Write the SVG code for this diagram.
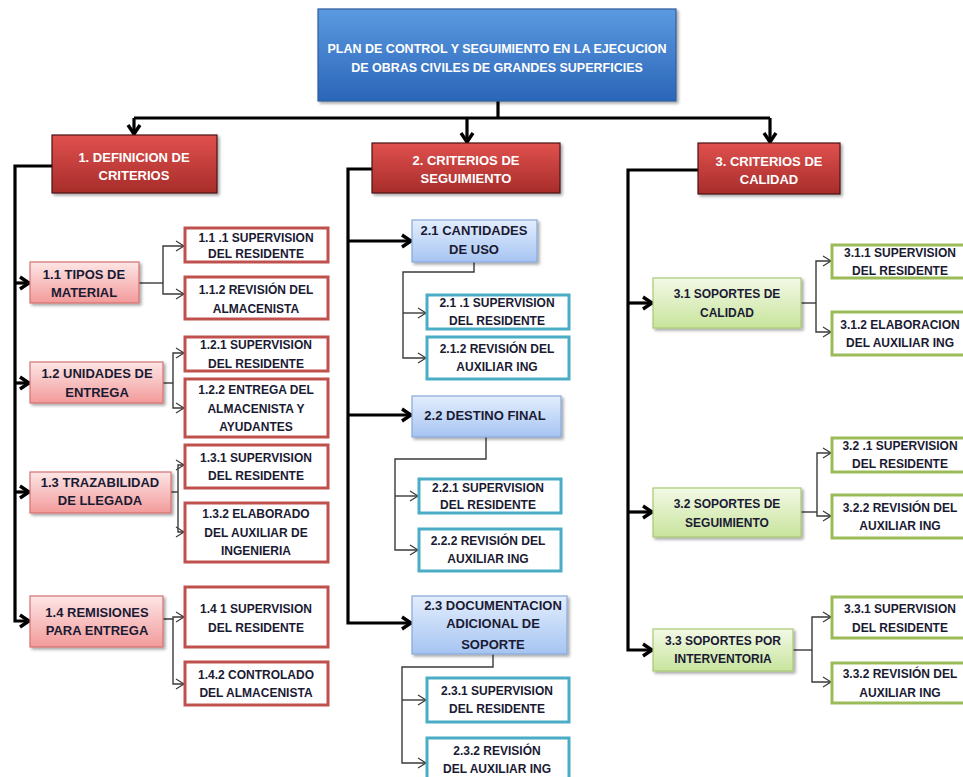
<svg xmlns="http://www.w3.org/2000/svg" width="963" height="777" viewBox="0 0 963 777">
<style>
text{font-family:"Liberation Sans",Arial,sans-serif;font-weight:bold;text-anchor:middle}
.t0{font-size:13px;fill:#ffffff}
.tt{font-size:12.5px;fill:#ffffff}
.t1{font-size:13px;fill:#1a1a33}
.t2{font-size:12px;fill:#1a1a33}
.thick{fill:none;stroke:#000;stroke-width:3.2}
.thin{fill:none;stroke:#3a3a3a;stroke-width:1.4}
.red{fill:url(#gRed);stroke:#4a1414;stroke-width:1.2;filter:url(#sh)}
.top{fill:url(#gBlue);stroke:#2f5f9e;stroke-width:1.2;filter:url(#sh)}
.pink{fill:url(#gPink);stroke:#d47272;stroke-width:1.2;filter:url(#sh)}
.lblue{fill:url(#gLBlue);stroke:#86a9da;stroke-width:1.2;filter:url(#sh)}
.lgreen{fill:url(#gLGreen);stroke:#a9c874;stroke-width:1.2;filter:url(#sh)}
.sr{fill:#fff;stroke:#c0504d;stroke-width:3}
.st{fill:#fff;stroke:#4bacc6;stroke-width:3}
.sg{fill:#fff;stroke:#9bbb59;stroke-width:3}
</style>
<defs>
<filter id="sh" x="-10%" y="-10%" width="125%" height="130%">
<feDropShadow dx="2" dy="2" stdDeviation="1.5" flood-color="#000" flood-opacity="0.35"/>
</filter>
<linearGradient id="gBlue" x1="0" y1="0" x2="0" y2="1"><stop offset="0" stop-color="#5b9ae0"/><stop offset="1" stop-color="#2b65b8"/></linearGradient>
<linearGradient id="gRed" x1="0" y1="0" x2="0" y2="1"><stop offset="0" stop-color="#e0514e"/><stop offset="1" stop-color="#a72c2a"/></linearGradient>
<linearGradient id="gPink" x1="0" y1="0" x2="0" y2="1"><stop offset="0" stop-color="#fde6e6"/><stop offset="1" stop-color="#f39a9a"/></linearGradient>
<linearGradient id="gLBlue" x1="0" y1="0" x2="0" y2="1"><stop offset="0" stop-color="#e3eefd"/><stop offset="1" stop-color="#a6c4f2"/></linearGradient>
<linearGradient id="gLGreen" x1="0" y1="0" x2="0" y2="1"><stop offset="0" stop-color="#f3f9e6"/><stop offset="1" stop-color="#c8e49c"/></linearGradient>
<marker id="aT" markerUnits="userSpaceOnUse" markerWidth="16" markerHeight="16" viewBox="-14 -8 16 16" refX="0" refY="0" orient="auto">
<path d="M-10,-6 L-1,0 L-10,6" fill="none" stroke="#000" stroke-width="3.4"/>
</marker>
<marker id="aS" markerUnits="userSpaceOnUse" markerWidth="14" markerHeight="14" viewBox="-12 -7 14 14" refX="0" refY="0" orient="auto">
<path d="M-9,-5 L-1,0 L-9,5" fill="none" stroke="#3a3a3a" stroke-width="1.2"/>
</marker>
</defs>

<g id="connectors">
<path class="thick" d="M498,101 V118"/>
<path class="thick" d="M134,118 H770"/>
<path class="thick" marker-end="url(#aT)" d="M134,118 V135"/>
<path class="thick" marker-end="url(#aT)" d="M467,118 V143"/>
<path class="thick" marker-end="url(#aT)" d="M770,118 V143"/>

<path class="thick" marker-end="url(#aT)" d="M52,166 H15 V621 H30"/>
<path class="thick" marker-end="url(#aT)" d="M15,283 H30"/>
<path class="thick" marker-end="url(#aT)" d="M15,383 H30"/>
<path class="thick" marker-end="url(#aT)" d="M15,492 H30"/>

<path class="thin" d="M139,283 H163"/>
<path class="thin" marker-end="url(#aS)" d="M163,283 V246 H185"/>
<path class="thin" marker-end="url(#aS)" d="M163,283 V294 H185"/>
<path class="thin" d="M163,383 H173"/>
<path class="thin" marker-end="url(#aS)" d="M173,383 V353 H185"/>
<path class="thin" marker-end="url(#aS)" d="M173,383 V408 H185"/>
<path class="thin" d="M171,492 H178"/>
<path class="thin" marker-end="url(#aS)" d="M178,492 V465 H185"/>
<path class="thin" marker-end="url(#aS)" d="M178,492 V532 H185"/>
<path class="thin" marker-end="url(#aS)" d="M163,619 H173 V617 H185"/>
<path class="thin" marker-end="url(#aS)" d="M173,619 V684 H185"/>

<path class="thick" marker-end="url(#aT)" d="M372,169 H348 V623 H412"/>
<path class="thick" marker-end="url(#aT)" d="M348,241 H412"/>
<path class="thick" marker-end="url(#aT)" d="M348,415 H412"/>
<path class="thin" marker-end="url(#aS)" d="M474,262 V272 H403 V358 H427"/>
<path class="thin" marker-end="url(#aS)" d="M403,313 H427"/>
<path class="thin" marker-end="url(#aS)" d="M486,437 V459 H395 V550 H419"/>
<path class="thin" marker-end="url(#aS)" d="M395,496 H419"/>
<path class="thin" marker-end="url(#aS)" d="M493,654 V667 H402 V763 H427"/>
<path class="thin" marker-end="url(#aS)" d="M402,700 H427"/>

<path class="thick" marker-end="url(#aT)" d="M698,170 H628 V650 H653"/>
<path class="thick" marker-end="url(#aT)" d="M628,303 H653"/>
<path class="thick" marker-end="url(#aT)" d="M628,512 H653"/>
<path class="thin" d="M801,303 H816"/>
<path class="thin" marker-end="url(#aS)" d="M816,303 V261 H832"/>
<path class="thin" marker-end="url(#aS)" d="M816,303 V332 H832"/>
<path class="thin" d="M801,512 H817"/>
<path class="thin" marker-end="url(#aS)" d="M817,512 V453 H832"/>
<path class="thin" marker-end="url(#aS)" d="M817,512 V516 H832"/>
<path class="thin" d="M793,650 H812"/>
<path class="thin" marker-end="url(#aS)" d="M812,650 V617 H832"/>
<path class="thin" marker-end="url(#aS)" d="M812,650 V682 H832"/>
</g>

<g id="root"><rect class="top" x="318" y="9" width="358" height="92"/>
<text class="tt" x="497" y="53">PLAN DE CONTROL Y SEGUIMIENTO EN LA EJECUCION</text>
<text class="tt" x="497" y="72">DE OBRAS CIVILES DE GRANDES SUPERFICIES</text></g>

<g id="n1"><rect class="red" x="52" y="135" width="165" height="58"/>
<text class="t0" x="134" y="162">1. DEFINICION DE</text><text class="t0" x="134" y="180">CRITERIOS</text></g>
<g id="n2"><rect class="red" x="372" y="143" width="188" height="50"/>
<text class="t0" x="466" y="165">2. CRITERIOS DE</text><text class="t0" x="466" y="183">SEGUIMIENTO</text></g>
<g id="n3"><rect class="red" x="698" y="143" width="142" height="51"/>
<text class="t0" x="769" y="166">3. CRITERIOS DE</text><text class="t0" x="769" y="184">CALIDAD</text></g>

<g id="n1_1"><rect class="pink" x="30" y="262" width="109" height="41"/>
<text class="t1" x="84" y="279">1.1 TIPOS DE</text><text class="t1" x="84" y="297">MATERIAL</text></g>
<g id="n1_1_1"><rect class="sr" x="185" y="228" width="143" height="34"/>
<text class="t2" x="256" y="242">1.1 .1 SUPERVISION</text><text class="t2" x="256" y="258">DEL RESIDENTE</text></g>
<g id="n1_1_2"><rect class="sr" x="185" y="277" width="143" height="42"/>
<text class="t2" x="256" y="294">1.1.2 REVISIÓN DEL</text><text class="t2" x="256" y="313">ALMACENISTA</text></g>

<g id="n1_2"><rect class="pink" x="30" y="362" width="133" height="41"/>
<text class="t1" x="97" y="378">1.2 UNIDADES DE</text><text class="t1" x="97" y="397">ENTREGA</text></g>
<g id="n1_2_1"><rect class="sr" x="185" y="337" width="143" height="34"/>
<text class="t2" x="256" y="349">1.2.1 SUPERVISION</text><text class="t2" x="256" y="368">DEL RESIDENTE</text></g>
<g id="n1_2_2"><rect class="sr" x="185" y="379" width="143" height="58"/>
<text class="t2" x="256" y="394">1.2.2 ENTREGA DEL</text><text class="t2" x="256" y="413">ALMACENISTA Y</text><text class="t2" x="256" y="431">AYUDANTES</text></g>

<g id="n1_3"><rect class="pink" x="30" y="472" width="141" height="41"/>
<text class="t1" x="100" y="487">1.3 TRAZABILIDAD</text><text class="t1" x="100" y="505">DE LLEGADA</text></g>
<g id="n1_3_1"><rect class="sr" x="185" y="445" width="143" height="43"/>
<text class="t2" x="256" y="462">1.3.1 SUPERVISION</text><text class="t2" x="256" y="480">DEL RESIDENTE</text></g>
<g id="n1_3_2"><rect class="sr" x="185" y="503" width="143" height="59"/>
<text class="t2" x="256" y="518">1.3.2 ELABORADO</text><text class="t2" x="256" y="537">DEL AUXILIAR DE</text><text class="t2" x="256" y="555">INGENIERIA</text></g>

<g id="n1_4"><rect class="pink" x="30" y="596" width="133" height="51"/>
<text class="t1" x="97" y="617">1.4 REMISIONES</text><text class="t1" x="97" y="635">PARA ENTREGA</text></g>
<g id="n1_4_1"><rect class="sr" x="185" y="587" width="143" height="60"/>
<text class="t2" x="256" y="613">1.4 1 SUPERVISION</text><text class="t2" x="256" y="632">DEL RESIDENTE</text></g>
<g id="n1_4_2"><rect class="sr" x="185" y="662" width="143" height="43"/>
<text class="t2" x="256" y="679">1.4.2 CONTROLADO</text><text class="t2" x="256" y="697">DEL ALMACENISTA</text></g>

<g id="n2_1"><rect class="lblue" x="412" y="220" width="125" height="42"/>
<text class="t1" x="474" y="235">2.1 CANTIDADES</text><text class="t1" x="474" y="254">DE USO</text></g>
<g id="n2_1_1"><rect class="st" x="427" y="295" width="142" height="34"/>
<text class="t2" x="497" y="307">2.1 .1 SUPERVISION</text><text class="t2" x="497" y="325">DEL RESIDENTE</text></g>
<g id="n2_1_2"><rect class="st" x="427" y="337" width="142" height="42"/>
<text class="t2" x="497" y="353">2.1.2 REVISIÓN DEL</text><text class="t2" x="497" y="371">AUXILIAR ING</text></g>

<g id="n2_2"><rect class="lblue" x="412" y="396" width="149" height="41"/>
<text class="t1" x="485" y="420">2.2 DESTINO FINAL</text></g>
<g id="n2_2_1"><rect class="st" x="419" y="479" width="142" height="34"/>
<text class="t2" x="488" y="492">2.2.1 SUPERVISION</text><text class="t2" x="488" y="509">DEL RESIDENTE</text></g>
<g id="n2_2_2"><rect class="st" x="419" y="529" width="142" height="42"/>
<text class="t2" x="488" y="545">2.2.2 REVISIÓN DEL</text><text class="t2" x="488" y="563">AUXILIAR ING</text></g>

<g id="n2_3"><rect class="lblue" x="412" y="596" width="155" height="58"/>
<text class="t1" x="493" y="610">2.3 DOCUMENTACION</text><text class="t1" x="493" y="628">ADICIONAL DE</text><text class="t1" x="493" y="649">SOPORTE</text></g>
<g id="n2_3_1"><rect class="st" x="427" y="678" width="142" height="44"/>
<text class="t2" x="497" y="695">2.3.1 SUPERVISION</text><text class="t2" x="497" y="713">DEL RESIDENTE</text></g>
<g id="n2_3_2"><rect class="st" x="427" y="738" width="142" height="45"/>
<text class="t2" x="497" y="755">2.3.2 REVISIÓN</text><text class="t2" x="497" y="773">DEL AUXILIAR ING</text></g>

<g id="n3_1"><rect class="lgreen" x="653" y="278" width="148" height="50"/>
<text class="t2" x="727" y="298">3.1 SOPORTES DE</text><text class="t2" x="727" y="317">CALIDAD</text></g>
<g id="n3_1_1"><rect class="sg" x="832" y="245" width="140" height="33"/>
<text class="t2" x="900" y="257">3.1.1 SUPERVISION</text><text class="t2" x="900" y="275">DEL RESIDENTE</text></g>
<g id="n3_1_2"><rect class="sg" x="832" y="312" width="140" height="43"/>
<text class="t2" x="900" y="329">3.1.2 ELABORACION</text><text class="t2" x="900" y="347">DEL AUXILIAR ING</text></g>

<g id="n3_2"><rect class="lgreen" x="653" y="488" width="148" height="49"/>
<text class="t2" x="727" y="508">3.2 SOPORTES DE</text><text class="t2" x="727" y="527">SEGUIMIENTO</text></g>
<g id="n3_2_1"><rect class="sg" x="832" y="438" width="140" height="34"/>
<text class="t2" x="900" y="450">3.2 .1 SUPERVISION</text><text class="t2" x="900" y="468">DEL RESIDENTE</text></g>
<g id="n3_2_2"><rect class="sg" x="832" y="495" width="140" height="43"/>
<text class="t2" x="900" y="512">3.2.2 REVISIÓN DEL</text><text class="t2" x="900" y="530">AUXILIAR ING</text></g>

<g id="n3_3"><rect class="lgreen" x="653" y="629" width="140" height="42"/>
<text class="t2" x="723" y="645">3.3 SOPORTES POR</text><text class="t2" x="723" y="663">INTERVENTORIA</text></g>
<g id="n3_3_1"><rect class="sg" x="832" y="597" width="140" height="41"/>
<text class="t2" x="900" y="613">3.3.1 SUPERVISION</text><text class="t2" x="900" y="632">DEL RESIDENTE</text></g>
<g id="n3_3_2"><rect class="sg" x="832" y="663" width="140" height="40"/>
<text class="t2" x="900" y="678">3.3.2 REVISIÓN DEL</text><text class="t2" x="900" y="697">AUXILIAR ING</text></g>
</svg>
